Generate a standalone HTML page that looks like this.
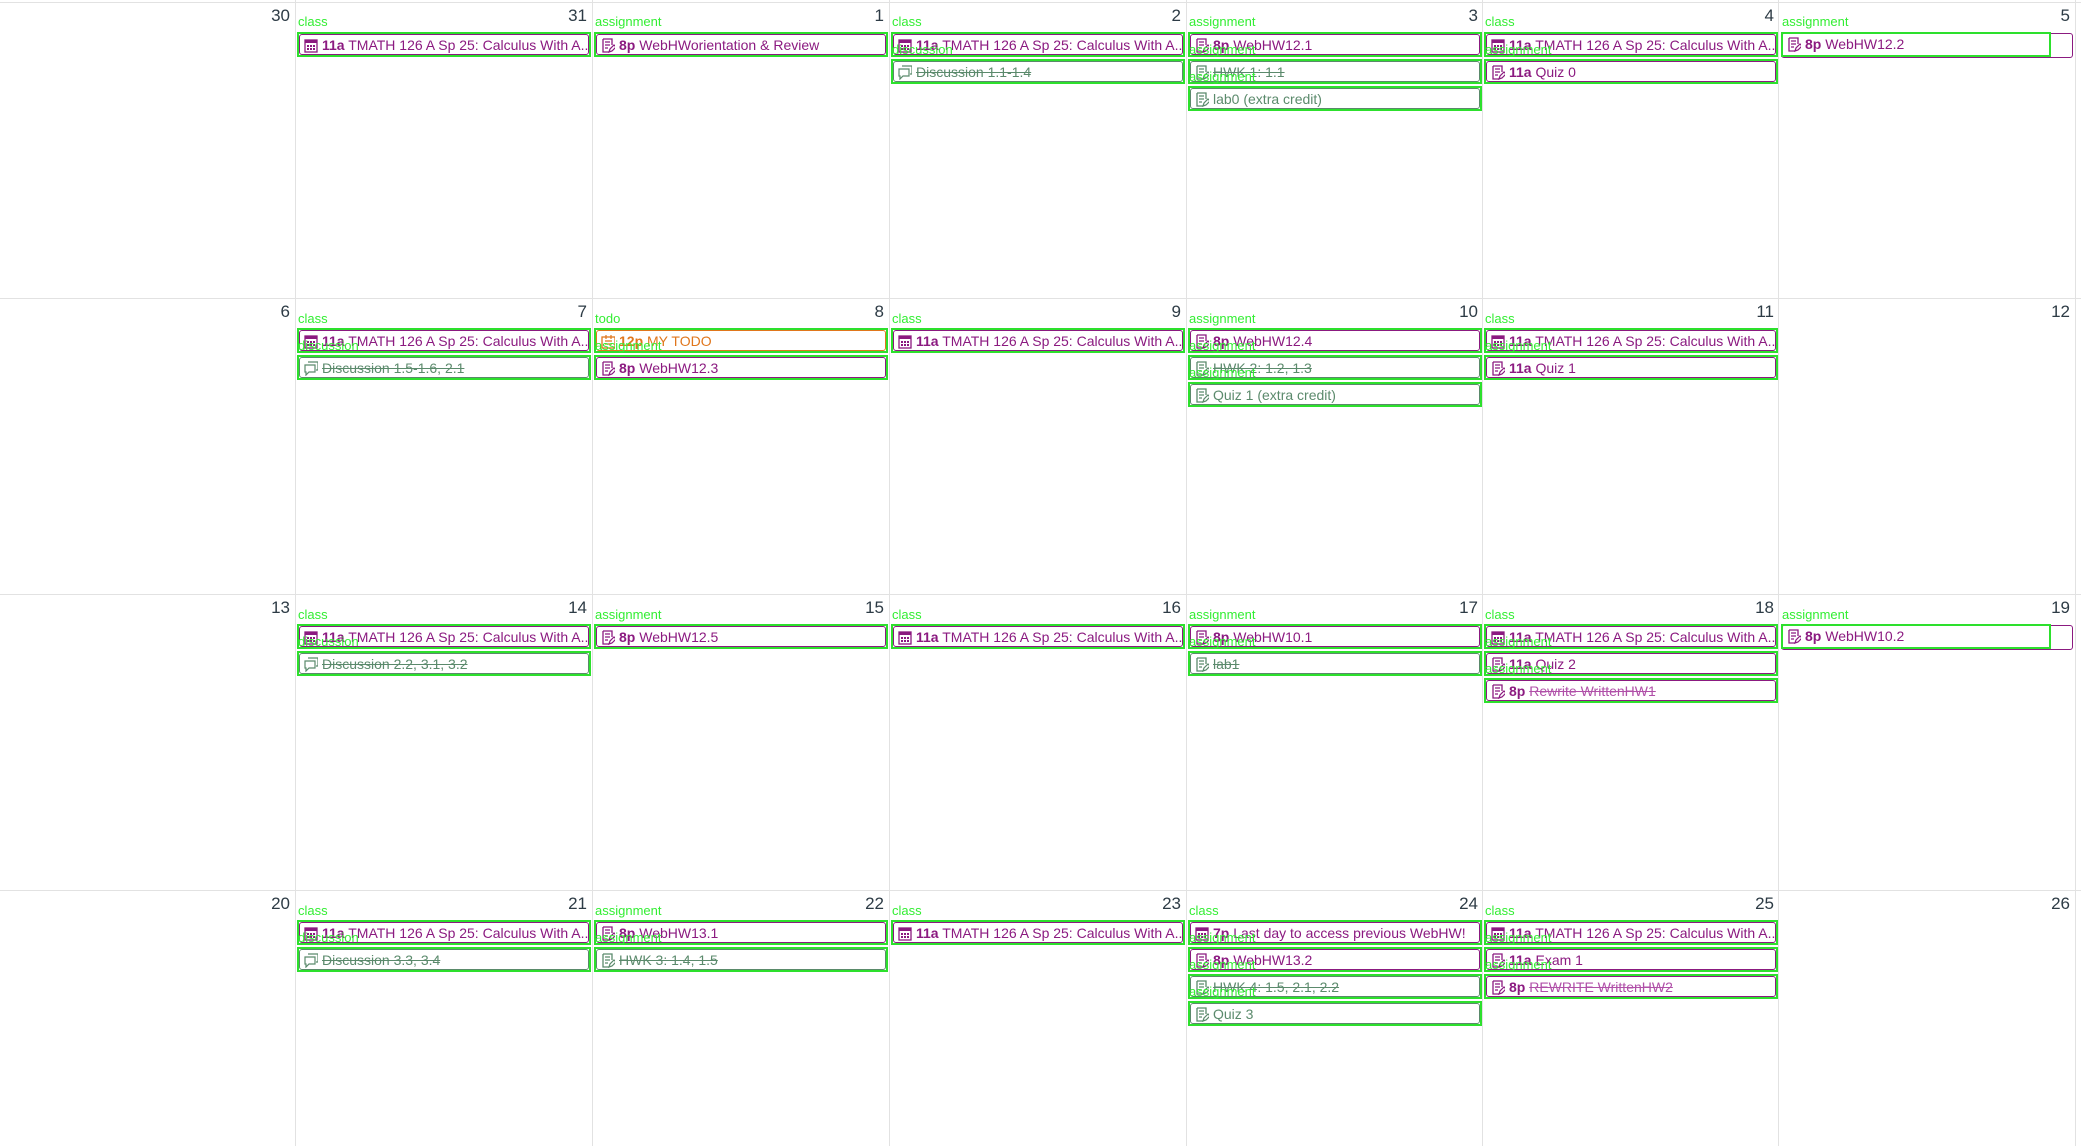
<!DOCTYPE html>
<html><head><meta charset="utf-8"><style>
html,body{margin:0;padding:0;background:#fff;width:2081px;height:1146px;overflow:hidden;position:relative;font-family:"Liberation Sans",sans-serif}
.h{position:absolute;left:0;width:2081px;height:1px;background:#e2e2e2}
.v{position:absolute;top:0;width:1px;height:1146px;background:#e2e2e2}
.d{position:absolute;width:60px;text-align:right;font-size:17px;color:#2d3b45}
.l{position:absolute;font-size:13px;color:#33ee33;line-height:14px;white-space:nowrap}
.e{position:absolute;width:290px;height:21px;border:2px solid #2de02d;box-sizing:content-box}
.e .i{position:absolute;left:0;top:0;right:0;bottom:0;border:1px solid #8b1a80;border-radius:3px;font-size:14px;line-height:20px;padding-left:22px;white-space:nowrap;overflow:hidden;color:#8b1a80}
.e.g .i{border-color:#5a8a6a;color:#5b8a6c}
.e.o .i{border-color:#e0761c;color:#e0761c}
.e .i svg{position:absolute;left:4px;top:3px;width:14px;height:15px}
b{font-weight:bold}
s{text-decoration:line-through}
.p s{color:#b050a8}
</style></head><body>
<svg width="0" height="0" style="position:absolute"><defs>
<g id="cal"><rect x="1" y="2" width="12" height="12" fill="none" stroke="currentColor" stroke-width="1.3"/><rect x="1" y="2" width="12" height="3" fill="currentColor"/><rect x="3" y="7" width="2" height="2" fill="currentColor"/><rect x="6" y="7" width="2" height="2" fill="currentColor"/><rect x="9" y="7" width="2" height="2" fill="currentColor"/><rect x="3" y="10" width="2" height="2" fill="currentColor"/><rect x="6" y="10" width="2" height="2" fill="currentColor"/><rect x="9" y="10" width="2" height="2" fill="currentColor"/></g>
<g id="asg"><path d="M2 1h9v6M2 1v13h6" fill="none" stroke="currentColor" stroke-width="1.3"/><path d="M4 4h5M4 7h5M4 10h3" stroke="currentColor" stroke-width="1.2"/><path d="M8 14l1-3 4-4 2 2-4 4z" fill="none" stroke="currentColor" stroke-width="1.2"/></g>
<g id="dis"><path d="M4 1h10v8h-2" fill="none" stroke="currentColor" stroke-width="1.2"/><path d="M1 4h10v7H5l-3 3v-3H1z" fill="none" stroke="currentColor" stroke-width="1.2"/></g>
<g id="todo"><rect x="1" y="3" width="13" height="11" fill="none" stroke="currentColor" stroke-width="1.3"/><path d="M4 7h7M4 10h7M5 1v4M10 1v4" stroke="currentColor" stroke-width="1.2"/></g>
</defs></svg>

<div class="h" style="top:2px"></div><div class="h" style="top:298px"></div><div class="h" style="top:594px"></div><div class="h" style="top:890px"></div>
<div class="v" style="left:295px"></div><div class="v" style="left:592px"></div><div class="v" style="left:889px"></div><div class="v" style="left:1186px"></div><div class="v" style="left:1482px"></div><div class="v" style="left:1778px"></div><div class="v" style="left:2075px"></div>

<div class="d" style="left:230px;top:6px">30</div><div class="d" style="left:527px;top:6px">31</div><div class="d" style="left:824px;top:6px">1</div><div class="d" style="left:1121px;top:6px">2</div><div class="d" style="left:1418px;top:6px">3</div><div class="d" style="left:1714px;top:6px">4</div><div class="d" style="left:2010px;top:6px">5</div>
<div class="d" style="left:230px;top:302px">6</div><div class="d" style="left:527px;top:302px">7</div><div class="d" style="left:824px;top:302px">8</div><div class="d" style="left:1121px;top:302px">9</div><div class="d" style="left:1418px;top:302px">10</div><div class="d" style="left:1714px;top:302px">11</div><div class="d" style="left:2010px;top:302px">12</div>
<div class="d" style="left:230px;top:598px">13</div><div class="d" style="left:527px;top:598px">14</div><div class="d" style="left:824px;top:598px">15</div><div class="d" style="left:1121px;top:598px">16</div><div class="d" style="left:1418px;top:598px">17</div><div class="d" style="left:1714px;top:598px">18</div><div class="d" style="left:2010px;top:598px">19</div>
<div class="d" style="left:230px;top:894px">20</div><div class="d" style="left:527px;top:894px">21</div><div class="d" style="left:824px;top:894px">22</div><div class="d" style="left:1121px;top:894px">23</div><div class="d" style="left:1418px;top:894px">24</div><div class="d" style="left:1714px;top:894px">25</div><div class="d" style="left:2010px;top:894px">26</div>

<div class="e" style="left:297px;top:32px"><div class="i"><svg><use href="#cal"/></svg><b>11a</b> TMATH 126 A Sp 25: Calculus With A...</div></div>
<div class="e" style="left:594px;top:32px"><div class="i"><svg><use href="#asg"/></svg><b>8p</b> WebHWorientation &amp; Review</div></div>
<div class="e" style="left:891px;top:32px"><div class="i"><svg><use href="#cal"/></svg><b>11a</b> TMATH 126 A Sp 25: Calculus With A...</div></div>
<div class="e g" style="left:891px;top:59px"><div class="i"><svg><use href="#dis"/></svg><s>Discussion 1.1-1.4</s></div></div>
<div class="e" style="left:1188px;top:32px"><div class="i"><svg><use href="#asg"/></svg><b>8p</b> WebHW12.1</div></div>
<div class="e g" style="left:1188px;top:59px"><div class="i"><svg><use href="#asg"/></svg><s>HWK 1: 1.1</s></div></div>
<div class="e g" style="left:1188px;top:86px"><div class="i"><svg><use href="#asg"/></svg>lab0 (extra credit)</div></div>
<div class="e" style="left:1484px;top:32px"><div class="i"><svg><use href="#cal"/></svg><b>11a</b> TMATH 126 A Sp 25: Calculus With A...</div></div>
<div class="e" style="left:1484px;top:59px"><div class="i"><svg><use href="#asg"/></svg><b>11a</b> Quiz 0</div></div>
<div style="position:absolute;left:1781px;top:33px;width:290px;height:23px;border:1px solid #8b1a80;border-radius:3px"></div>
<div class="e" style="left:1781px;top:32px;width:266px"><div class="i" style="border:none"><svg><use href="#asg"/></svg><b>8p</b> WebHW12.2</div></div>
<div class="l" style="left:298px;top:15px">class</div>
<div class="l" style="left:595px;top:15px">assignment</div>
<div class="l" style="left:892px;top:15px">class</div><div class="l" style="left:892px;top:43px">discussion</div>
<div class="l" style="left:1189px;top:15px">assignment</div><div class="l" style="left:1189px;top:43px">assignment</div><div class="l" style="left:1189px;top:70px">assignment</div>
<div class="l" style="left:1485px;top:15px">class</div><div class="l" style="left:1485px;top:43px">assignment</div>
<div class="l" style="left:1782px;top:15px">assignment</div>

<div class="e" style="left:297px;top:328px"><div class="i"><svg><use href="#cal"/></svg><b>11a</b> TMATH 126 A Sp 25: Calculus With A...</div></div>
<div class="e g" style="left:297px;top:355px"><div class="i"><svg><use href="#dis"/></svg><s>Discussion 1.5-1.6, 2.1</s></div></div>
<div class="e o" style="left:594px;top:328px"><div class="i"><svg><use href="#todo"/></svg><b>12p</b> MY TODO</div></div>
<div class="e" style="left:594px;top:355px"><div class="i"><svg><use href="#asg"/></svg><b>8p</b> WebHW12.3</div></div>
<div class="e" style="left:891px;top:328px"><div class="i"><svg><use href="#cal"/></svg><b>11a</b> TMATH 126 A Sp 25: Calculus With A...</div></div>
<div class="e" style="left:1188px;top:328px"><div class="i"><svg><use href="#asg"/></svg><b>8p</b> WebHW12.4</div></div>
<div class="e g" style="left:1188px;top:355px"><div class="i"><svg><use href="#asg"/></svg><s>HWK 2: 1.2, 1.3</s></div></div>
<div class="e g" style="left:1188px;top:382px"><div class="i"><svg><use href="#asg"/></svg>Quiz 1 (extra credit)</div></div>
<div class="e" style="left:1484px;top:328px"><div class="i"><svg><use href="#cal"/></svg><b>11a</b> TMATH 126 A Sp 25: Calculus With A...</div></div>
<div class="e" style="left:1484px;top:355px"><div class="i"><svg><use href="#asg"/></svg><b>11a</b> Quiz 1</div></div>
<div class="l" style="left:298px;top:312px">class</div><div class="l" style="left:298px;top:339px">discussion</div>
<div class="l" style="left:595px;top:312px">todo</div><div class="l" style="left:595px;top:339px">assignment</div>
<div class="l" style="left:892px;top:312px">class</div>
<div class="l" style="left:1189px;top:312px">assignment</div><div class="l" style="left:1189px;top:339px">assignment</div><div class="l" style="left:1189px;top:366px">assignment</div>
<div class="l" style="left:1485px;top:312px">class</div><div class="l" style="left:1485px;top:339px">assignment</div>

<div class="e" style="left:297px;top:624px"><div class="i"><svg><use href="#cal"/></svg><b>11a</b> TMATH 126 A Sp 25: Calculus With A...</div></div>
<div class="e g" style="left:297px;top:651px"><div class="i"><svg><use href="#dis"/></svg><s>Discussion 2.2, 3.1, 3.2</s></div></div>
<div class="e" style="left:594px;top:624px"><div class="i"><svg><use href="#asg"/></svg><b>8p</b> WebHW12.5</div></div>
<div class="e" style="left:891px;top:624px"><div class="i"><svg><use href="#cal"/></svg><b>11a</b> TMATH 126 A Sp 25: Calculus With A...</div></div>
<div class="e" style="left:1188px;top:624px"><div class="i"><svg><use href="#asg"/></svg><b>8p</b> WebHW10.1</div></div>
<div class="e g" style="left:1188px;top:651px"><div class="i"><svg><use href="#asg"/></svg><s>lab1</s></div></div>
<div class="e" style="left:1484px;top:624px"><div class="i"><svg><use href="#cal"/></svg><b>11a</b> TMATH 126 A Sp 25: Calculus With A...</div></div>
<div class="e" style="left:1484px;top:651px"><div class="i"><svg><use href="#asg"/></svg><b>11a</b> Quiz 2</div></div>
<div class="e p" style="left:1484px;top:678px"><div class="i"><svg><use href="#asg"/></svg><b>8p</b> <s>Rewrite WrittenHW1</s></div></div>
<div style="position:absolute;left:1781px;top:625px;width:290px;height:23px;border:1px solid #8b1a80;border-radius:3px"></div>
<div class="e" style="left:1781px;top:624px;width:266px"><div class="i" style="border:none"><svg><use href="#asg"/></svg><b>8p</b> WebHW10.2</div></div>
<div class="l" style="left:298px;top:608px">class</div><div class="l" style="left:298px;top:635px">discussion</div>
<div class="l" style="left:595px;top:608px">assignment</div>
<div class="l" style="left:892px;top:608px">class</div>
<div class="l" style="left:1189px;top:608px">assignment</div><div class="l" style="left:1189px;top:635px">assignment</div>
<div class="l" style="left:1485px;top:608px">class</div><div class="l" style="left:1485px;top:635px">assignment</div><div class="l" style="left:1485px;top:662px">assignment</div>
<div class="l" style="left:1782px;top:608px">assignment</div>

<div class="e" style="left:297px;top:920px"><div class="i"><svg><use href="#cal"/></svg><b>11a</b> TMATH 126 A Sp 25: Calculus With A...</div></div>
<div class="e g" style="left:297px;top:947px"><div class="i"><svg><use href="#dis"/></svg><s>Discussion 3.3, 3.4</s></div></div>
<div class="e" style="left:594px;top:920px"><div class="i"><svg><use href="#asg"/></svg><b>8p</b> WebHW13.1</div></div>
<div class="e g" style="left:594px;top:947px"><div class="i"><svg><use href="#asg"/></svg><s>HWK 3: 1.4, 1.5</s></div></div>
<div class="e" style="left:891px;top:920px"><div class="i"><svg><use href="#cal"/></svg><b>11a</b> TMATH 126 A Sp 25: Calculus With A...</div></div>
<div class="e" style="left:1188px;top:920px"><div class="i"><svg><use href="#cal"/></svg><b>7p</b> Last day to access previous WebHW!</div></div>
<div class="e" style="left:1188px;top:947px"><div class="i"><svg><use href="#asg"/></svg><b>8p</b> WebHW13.2</div></div>
<div class="e g" style="left:1188px;top:974px"><div class="i"><svg><use href="#asg"/></svg><s>HWK 4: 1.5, 2.1, 2.2</s></div></div>
<div class="e g" style="left:1188px;top:1001px"><div class="i"><svg><use href="#asg"/></svg>Quiz 3</div></div>
<div class="e" style="left:1484px;top:920px"><div class="i"><svg><use href="#cal"/></svg><b>11a</b> TMATH 126 A Sp 25: Calculus With A...</div></div>
<div class="e" style="left:1484px;top:947px"><div class="i"><svg><use href="#asg"/></svg><b>11a</b> Exam 1</div></div>
<div class="e p" style="left:1484px;top:974px"><div class="i"><svg><use href="#asg"/></svg><b>8p</b> <s>REWRITE WrittenHW2</s></div></div>
<div class="l" style="left:298px;top:904px">class</div><div class="l" style="left:298px;top:931px">discussion</div>
<div class="l" style="left:595px;top:904px">assignment</div><div class="l" style="left:595px;top:931px">assignment</div>
<div class="l" style="left:892px;top:904px">class</div>
<div class="l" style="left:1189px;top:904px">class</div><div class="l" style="left:1189px;top:931px">assignment</div><div class="l" style="left:1189px;top:958px">assignment</div><div class="l" style="left:1189px;top:985px">assignment</div>
<div class="l" style="left:1485px;top:904px">class</div><div class="l" style="left:1485px;top:931px">assignment</div><div class="l" style="left:1485px;top:958px">assignment</div>
</body></html>
